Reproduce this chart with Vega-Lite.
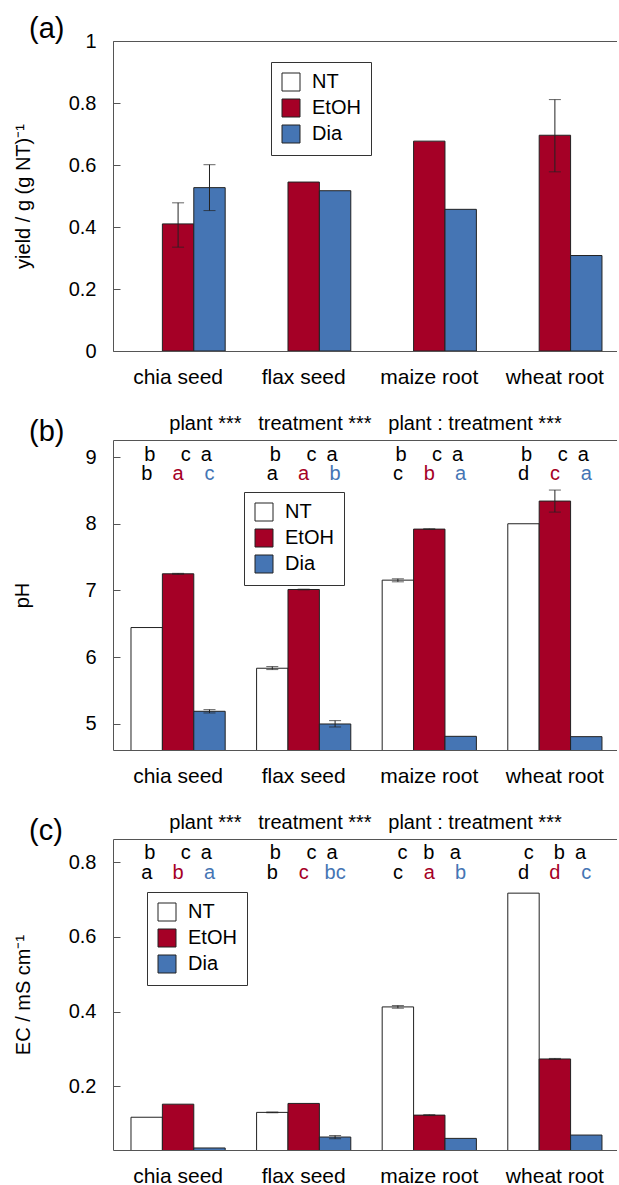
{
  "$schema": "https://vega.github.io/schema/vega-lite/v6.json",
  "autosize": {"type": "pad"},
  "padding": {"left": 12, "top": 15, "right": 0, "bottom": 0},
  "background": "white",
  "bounds": "flush",
  "spacing": 89,
  "resolve": {"scale": {"fill": "independent", "color": "independent"}, "legend": {"fill": "independent", "color": "independent"}},
  "config": {
    "font": "Liberation Sans",
    "view": {"stroke": null},
    "axis": {"grid": false, "domainColor": "#555", "tickColor": "#555", "labelColor": "black", "titleColor": "black", "labelFontSize": 20, "titleFontSize": 20, "titleFontWeight": "normal", "labelFont": "Liberation Sans", "titleFont": "Liberation Sans"},
    "legend": {"orient": "none", "labelFontSize": 20, "labelFont": "Liberation Sans", "symbolType": "square", "symbolSize": 324, "symbolStrokeColor": "#222", "symbolStrokeWidth": 1, "labelOffset": 11, "padding": 10, "rowPadding": 4, "strokeColor": "#333", "fillColor": "white", "title": null},
    "title": {"font": "Liberation Sans", "fontWeight": "normal", "color": "black"}
  },
  "datasets": {
    "yield": [
      {"plant": "chia seed", "treatment": "EtOH", "value": 0.41},
      {"plant": "chia seed", "treatment": "Dia", "value": 0.527},
      {"plant": "flax seed", "treatment": "EtOH", "value": 0.545},
      {"plant": "flax seed", "treatment": "Dia", "value": 0.517},
      {"plant": "maize root", "treatment": "EtOH", "value": 0.677},
      {"plant": "maize root", "treatment": "Dia", "value": 0.457},
      {"plant": "wheat root", "treatment": "EtOH", "value": 0.696},
      {"plant": "wheat root", "treatment": "Dia", "value": 0.308}
    ],
    "yieldErr": [
      {"plant": "chia seed", "treatment": "EtOH", "lo": 0.335, "hi": 0.478},
      {"plant": "chia seed", "treatment": "Dia", "lo": 0.453, "hi": 0.601},
      {"plant": "wheat root", "treatment": "EtOH", "lo": 0.578, "hi": 0.811}
    ],
    "ph": [
      {"plant": "chia seed", "treatment": "NT", "value": 6.445},
      {"plant": "chia seed", "treatment": "EtOH", "value": 7.25},
      {"plant": "chia seed", "treatment": "Dia", "value": 5.19},
      {"plant": "flax seed", "treatment": "NT", "value": 5.835},
      {"plant": "flax seed", "treatment": "EtOH", "value": 7.015},
      {"plant": "flax seed", "treatment": "Dia", "value": 5.0},
      {"plant": "maize root", "treatment": "NT", "value": 7.155},
      {"plant": "maize root", "treatment": "EtOH", "value": 7.92},
      {"plant": "maize root", "treatment": "Dia", "value": 4.815},
      {"plant": "wheat root", "treatment": "NT", "value": 8.0},
      {"plant": "wheat root", "treatment": "EtOH", "value": 8.34},
      {"plant": "wheat root", "treatment": "Dia", "value": 4.81}
    ],
    "phErr": [
      {"plant": "chia seed", "treatment": "EtOH", "lo": 7.243, "hi": 7.257},
      {"plant": "chia seed", "treatment": "Dia", "lo": 5.165, "hi": 5.215},
      {"plant": "flax seed", "treatment": "NT", "lo": 5.815, "hi": 5.86},
      {"plant": "flax seed", "treatment": "EtOH", "lo": 7.01, "hi": 7.02},
      {"plant": "flax seed", "treatment": "Dia", "lo": 4.955, "hi": 5.05},
      {"plant": "maize root", "treatment": "NT", "lo": 7.13, "hi": 7.175},
      {"plant": "maize root", "treatment": "EtOH", "lo": 7.915, "hi": 7.925},
      {"plant": "wheat root", "treatment": "EtOH", "lo": 8.175, "hi": 8.505}
    ],
    "phRow1": [
      {"plant": "chia seed", "label": "b\u2002\u2002\u00a0c\u2002a"},
      {"plant": "flax seed", "label": "b\u2002\u2002\u00a0c\u2002a"},
      {"plant": "maize root", "label": "b\u2002\u2002\u00a0c\u2002a"},
      {"plant": "wheat root", "label": "b\u2002\u2002\u00a0c\u2002a"}
    ],
    "phRow2": [
      {"plant": "chia seed", "treatment": "NT", "label": "b"},
      {"plant": "chia seed", "treatment": "EtOH", "label": "a"},
      {"plant": "chia seed", "treatment": "Dia", "label": "c"},
      {"plant": "flax seed", "treatment": "NT", "label": "a"},
      {"plant": "flax seed", "treatment": "EtOH", "label": "a"},
      {"plant": "flax seed", "treatment": "Dia", "label": "b"},
      {"plant": "maize root", "treatment": "NT", "label": "c"},
      {"plant": "maize root", "treatment": "EtOH", "label": "b"},
      {"plant": "maize root", "treatment": "Dia", "label": "a"},
      {"plant": "wheat root", "treatment": "NT", "label": "d"},
      {"plant": "wheat root", "treatment": "EtOH", "label": "c"},
      {"plant": "wheat root", "treatment": "Dia", "label": "a"}
    ],
    "ec": [
      {"plant": "chia seed", "treatment": "NT", "value": 0.117},
      {"plant": "chia seed", "treatment": "EtOH", "value": 0.152},
      {"plant": "chia seed", "treatment": "Dia", "value": 0.0347},
      {"plant": "flax seed", "treatment": "NT", "value": 0.13},
      {"plant": "flax seed", "treatment": "EtOH", "value": 0.154},
      {"plant": "flax seed", "treatment": "Dia", "value": 0.064},
      {"plant": "maize root", "treatment": "NT", "value": 0.4124},
      {"plant": "maize root", "treatment": "EtOH", "value": 0.1227},
      {"plant": "maize root", "treatment": "Dia", "value": 0.0604},
      {"plant": "wheat root", "treatment": "NT", "value": 0.717},
      {"plant": "wheat root", "treatment": "EtOH", "value": 0.273},
      {"plant": "wheat root", "treatment": "Dia", "value": 0.0693}
    ],
    "ecErr": [
      {"plant": "flax seed", "treatment": "NT", "lo": 0.129, "hi": 0.131},
      {"plant": "flax seed", "treatment": "Dia", "lo": 0.0595, "hi": 0.068},
      {"plant": "maize root", "treatment": "NT", "lo": 0.409, "hi": 0.416},
      {"plant": "maize root", "treatment": "EtOH", "lo": 0.1215, "hi": 0.124},
      {"plant": "wheat root", "treatment": "EtOH", "lo": 0.272, "hi": 0.2745}
    ],
    "ecRow1": [
      {"plant": "chia seed", "label": "b\u2002\u2002\u00a0c\u2002a"},
      {"plant": "flax seed", "label": "b\u2002\u2002\u00a0c\u2002a"},
      {"plant": "maize root", "label": "c\u2002\u00a0b\u2002\u00a0a"},
      {"plant": "wheat root", "label": "c\u2002\u2002b\u2002a"}
    ],
    "ecRow2": [
      {"plant": "chia seed", "treatment": "NT", "label": "a"},
      {"plant": "chia seed", "treatment": "EtOH", "label": "b"},
      {"plant": "chia seed", "treatment": "Dia", "label": "a"},
      {"plant": "flax seed", "treatment": "NT", "label": "b"},
      {"plant": "flax seed", "treatment": "EtOH", "label": "c"},
      {"plant": "flax seed", "treatment": "Dia", "label": "bc"},
      {"plant": "maize root", "treatment": "NT", "label": "c"},
      {"plant": "maize root", "treatment": "EtOH", "label": "a"},
      {"plant": "maize root", "treatment": "Dia", "label": "b"},
      {"plant": "wheat root", "treatment": "NT", "label": "d"},
      {"plant": "wheat root", "treatment": "EtOH", "label": "d"},
      {"plant": "wheat root", "treatment": "Dia", "label": "c"}
    ]
  },
  "vconcat": [
    {
      "width": 504,
      "height": 310,
      "title": {"text": "(a)", "anchor": "start", "frame": "group", "dx": -84, "fontSize": 29, "offset": -13},
      "resolve": {"axis": {"x": "independent"}},
      "layer": [
        {
          "data": {"name": "yield"},
          "mark": {"type": "bar", "stroke": "#222", "strokeWidth": 1, "clip": true},
          "encoding": {
            "x": {"field": "plant", "type": "nominal", "scale": {"paddingInner": 0.25, "paddingOuter": 0.1314, "align": 0.545}, "axis": {"orient": "bottom", "title": null, "ticks": false, "tickSize": 0, "labelPadding": 15, "labelFontSize": 21, "labelAngle": 0}},
            "xOffset": {"field": "treatment", "type": "nominal", "scale": {"domain": ["NT", "EtOH", "Dia"], "paddingInner": 0, "paddingOuter": 0}},
            "y": {"field": "value", "type": "quantitative", "title": "yield / g (g NT)⁻¹", "scale": {"domain": [0, 1], "nice": false}, "axis": {"values": [0, 0.2, 0.4, 0.6, 0.8, 1], "format": "~g", "tickSize": -7, "labelPadding": 24, "titlePadding": 35}},
            "fill": {"field": "treatment", "type": "nominal", "scale": {"domain": ["NT", "EtOH", "Dia"], "range": ["white", "#A50026", "#4575B4"]}, "legend": {"legendX": 158, "legendY": 21}}
          }
        },
        {
          "data": {"name": "yieldErr"},
          "mark": {"type": "rule", "color": "#222", "strokeWidth": 1},
          "encoding": {
            "x": {"field": "plant", "type": "nominal", "axis": {"orient": "top", "title": null, "labels": false, "ticks": false, "domain": true}},
            "xOffset": {"field": "treatment", "type": "nominal", "scale": {"domain": ["NT", "EtOH", "Dia"]}},
            "y": {"field": "lo", "type": "quantitative", "title": "yield / g (g NT)⁻¹", "scale": {"domain": [0, 1], "nice": false}},
            "y2": {"field": "hi"}
          }
        },
        {
          "data": {"name": "yieldErr"},
          "mark": {"type": "tick", "color": "#222", "thickness": 1, "size": 12},
          "encoding": {
            "x": {"field": "plant", "type": "nominal", "axis": null},
            "xOffset": {"field": "treatment", "type": "nominal", "scale": {"domain": ["NT", "EtOH", "Dia"]}},
            "y": {"field": "lo", "type": "quantitative", "title": "yield / g (g NT)⁻¹", "scale": {"domain": [0, 1], "nice": false}}
          }
        },
        {
          "data": {"name": "yieldErr"},
          "mark": {"type": "tick", "color": "#222", "thickness": 1, "size": 12},
          "encoding": {
            "x": {"field": "plant", "type": "nominal", "axis": null},
            "xOffset": {"field": "treatment", "type": "nominal", "scale": {"domain": ["NT", "EtOH", "Dia"]}},
            "y": {"field": "hi", "type": "quantitative", "title": "yield / g (g NT)⁻¹", "scale": {"domain": [0, 1], "nice": false}}
          }
        }
      ]
    },
    {
      "width": 504,
      "height": 310,
      "title": {"text": "(b)", "anchor": "start", "frame": "group", "dx": -84, "fontSize": 29, "offset": -34},
      "resolve": {"axis": {"x": "independent"}},
      "layer": [
        {
          "data": {"name": "ph"},
          "mark": {"type": "bar", "stroke": "#222", "strokeWidth": 1, "clip": true},
          "encoding": {
            "x": {"field": "plant", "type": "nominal", "scale": {"paddingInner": 0.25, "paddingOuter": 0.1314, "align": 0.545}, "axis": {"orient": "bottom", "title": null, "ticks": false, "tickSize": 0, "labelPadding": 15, "labelFontSize": 21, "labelAngle": 0}},
            "xOffset": {"field": "treatment", "type": "nominal", "scale": {"domain": ["NT", "EtOH", "Dia"], "paddingInner": 0, "paddingOuter": 0}},
            "y": {"field": "value", "type": "quantitative", "title": "pH", "scale": {"domain": [4.61, 9.255], "nice": false, "zero": false}, "axis": {"values": [5, 6, 7, 8, 9], "format": "d", "tickSize": -7, "labelPadding": 24, "titlePadding": 52}},
            "fill": {"field": "treatment", "type": "nominal", "scale": {"domain": ["NT", "EtOH", "Dia"], "range": ["white", "#A50026", "#4575B4"]}, "legend": {"legendX": 131, "legendY": 52}}
          }
        },
        {
          "data": {"name": "phErr"},
          "mark": {"type": "rule", "color": "#222", "strokeWidth": 1},
          "encoding": {
            "x": {"field": "plant", "type": "nominal", "axis": null},
            "xOffset": {"field": "treatment", "type": "nominal", "scale": {"domain": ["NT", "EtOH", "Dia"]}},
            "y": {"field": "lo", "type": "quantitative", "title": "pH", "scale": {"domain": [4.61, 9.255], "nice": false, "zero": false}},
            "y2": {"field": "hi"}
          }
        },
        {
          "data": {"name": "phErr"},
          "mark": {"type": "tick", "color": "#222", "thickness": 1, "size": 12},
          "encoding": {
            "x": {"field": "plant", "type": "nominal", "axis": null},
            "xOffset": {"field": "treatment", "type": "nominal", "scale": {"domain": ["NT", "EtOH", "Dia"]}},
            "y": {"field": "lo", "type": "quantitative", "title": "pH", "scale": {"domain": [4.61, 9.255], "nice": false, "zero": false}}
          }
        },
        {
          "data": {"name": "phErr"},
          "mark": {"type": "tick", "color": "#222", "thickness": 1, "size": 12},
          "encoding": {
            "x": {"field": "plant", "type": "nominal", "axis": null},
            "xOffset": {"field": "treatment", "type": "nominal", "scale": {"domain": ["NT", "EtOH", "Dia"]}},
            "y": {"field": "hi", "type": "quantitative", "title": "pH", "scale": {"domain": [4.61, 9.255], "nice": false, "zero": false}}
          }
        },
        {
          "data": {"name": "phRow1"},
          "mark": {"type": "text", "fontSize": 20, "color": "black", "align": "center", "baseline": "middle"},
          "encoding": {
            "x": {"field": "plant", "type": "nominal", "axis": {"orient": "top", "title": "plant\u00a0***\u00a0\u00a0\u00a0treatment\u00a0***\u00a0\u00a0\u00a0plant : treatment\u00a0***", "labels": false, "ticks": false, "domain": true, "titlePadding": 7}},
            "y": {"datum": 9.03, "type": "quantitative", "scale": {"domain": [4.61, 9.255], "nice": false, "zero": false}},
            "text": {"field": "label"}
          }
        },
        {
          "data": {"name": "phRow2"},
          "mark": {"type": "text", "fontSize": 20, "align": "center", "baseline": "middle"},
          "encoding": {
            "x": {"field": "plant", "type": "nominal", "axis": null},
            "xOffset": {"field": "treatment", "type": "nominal", "scale": {"domain": ["NT", "EtOH", "Dia"]}},
            "y": {"datum": 8.75, "type": "quantitative", "scale": {"domain": [4.61, 9.255], "nice": false, "zero": false}},
            "color": {"field": "treatment", "type": "nominal", "scale": {"domain": ["NT", "EtOH", "Dia"], "range": ["black", "#A50026", "#4575B4"]}, "legend": null},
            "text": {"field": "label"}
          }
        }
      ]
    },
    {
      "width": 504,
      "height": 311,
      "title": {"text": "(c)", "anchor": "start", "frame": "group", "dx": -84, "fontSize": 29, "offset": -34},
      "resolve": {"axis": {"x": "independent"}},
      "layer": [
        {
          "data": {"name": "ec"},
          "mark": {"type": "bar", "stroke": "#222", "strokeWidth": 1, "clip": true},
          "encoding": {
            "x": {"field": "plant", "type": "nominal", "scale": {"paddingInner": 0.25, "paddingOuter": 0.1314, "align": 0.545}, "axis": {"orient": "bottom", "title": null, "ticks": false, "tickSize": 0, "labelPadding": 15, "labelFontSize": 21, "labelAngle": 0}},
            "xOffset": {"field": "treatment", "type": "nominal", "scale": {"domain": ["NT", "EtOH", "Dia"], "paddingInner": 0, "paddingOuter": 0}},
            "y": {"field": "value", "type": "quantitative", "title": "EC / mS cm⁻¹", "scale": {"domain": [0.0293, 0.862], "nice": false, "zero": false}, "axis": {"values": [0.2, 0.4, 0.6, 0.8], "format": "~g", "tickSize": -7, "labelPadding": 24, "titlePadding": 35}},
            "fill": {"field": "treatment", "type": "nominal", "scale": {"domain": ["NT", "EtOH", "Dia"], "range": ["white", "#A50026", "#4575B4"]}, "legend": {"legendX": 34, "legendY": 53}}
          }
        },
        {
          "data": {"name": "ecErr"},
          "mark": {"type": "rule", "color": "#222", "strokeWidth": 1},
          "encoding": {
            "x": {"field": "plant", "type": "nominal", "axis": null},
            "xOffset": {"field": "treatment", "type": "nominal", "scale": {"domain": ["NT", "EtOH", "Dia"]}},
            "y": {"field": "lo", "type": "quantitative", "title": "EC / mS cm⁻¹", "scale": {"domain": [0.0293, 0.862], "nice": false, "zero": false}},
            "y2": {"field": "hi"}
          }
        },
        {
          "data": {"name": "ecErr"},
          "mark": {"type": "tick", "color": "#222", "thickness": 1, "size": 12},
          "encoding": {
            "x": {"field": "plant", "type": "nominal", "axis": null},
            "xOffset": {"field": "treatment", "type": "nominal", "scale": {"domain": ["NT", "EtOH", "Dia"]}},
            "y": {"field": "lo", "type": "quantitative", "title": "EC / mS cm⁻¹", "scale": {"domain": [0.0293, 0.862], "nice": false, "zero": false}}
          }
        },
        {
          "data": {"name": "ecErr"},
          "mark": {"type": "tick", "color": "#222", "thickness": 1, "size": 12},
          "encoding": {
            "x": {"field": "plant", "type": "nominal", "axis": null},
            "xOffset": {"field": "treatment", "type": "nominal", "scale": {"domain": ["NT", "EtOH", "Dia"]}},
            "y": {"field": "hi", "type": "quantitative", "title": "EC / mS cm⁻¹", "scale": {"domain": [0.0293, 0.862], "nice": false, "zero": false}}
          }
        },
        {
          "data": {"name": "ecRow1"},
          "mark": {"type": "text", "fontSize": 20, "color": "black", "align": "center", "baseline": "middle"},
          "encoding": {
            "x": {"field": "plant", "type": "nominal", "axis": {"orient": "top", "title": "plant\u00a0***\u00a0\u00a0\u00a0treatment\u00a0***\u00a0\u00a0\u00a0plant : treatment\u00a0***", "labels": false, "ticks": false, "domain": true, "titlePadding": 7}},
            "y": {"datum": 0.825, "type": "quantitative", "scale": {"domain": [0.0293, 0.862], "nice": false, "zero": false}},
            "text": {"field": "label"}
          }
        },
        {
          "data": {"name": "ecRow2"},
          "mark": {"type": "text", "fontSize": 20, "align": "center", "baseline": "middle"},
          "encoding": {
            "x": {"field": "plant", "type": "nominal", "axis": null},
            "xOffset": {"field": "treatment", "type": "nominal", "scale": {"domain": ["NT", "EtOH", "Dia"]}},
            "y": {"datum": 0.77, "type": "quantitative", "scale": {"domain": [0.0293, 0.862], "nice": false, "zero": false}},
            "color": {"field": "treatment", "type": "nominal", "scale": {"domain": ["NT", "EtOH", "Dia"], "range": ["black", "#A50026", "#4575B4"]}, "legend": null},
            "text": {"field": "label"}
          }
        }
      ]
    }
  ]
}
